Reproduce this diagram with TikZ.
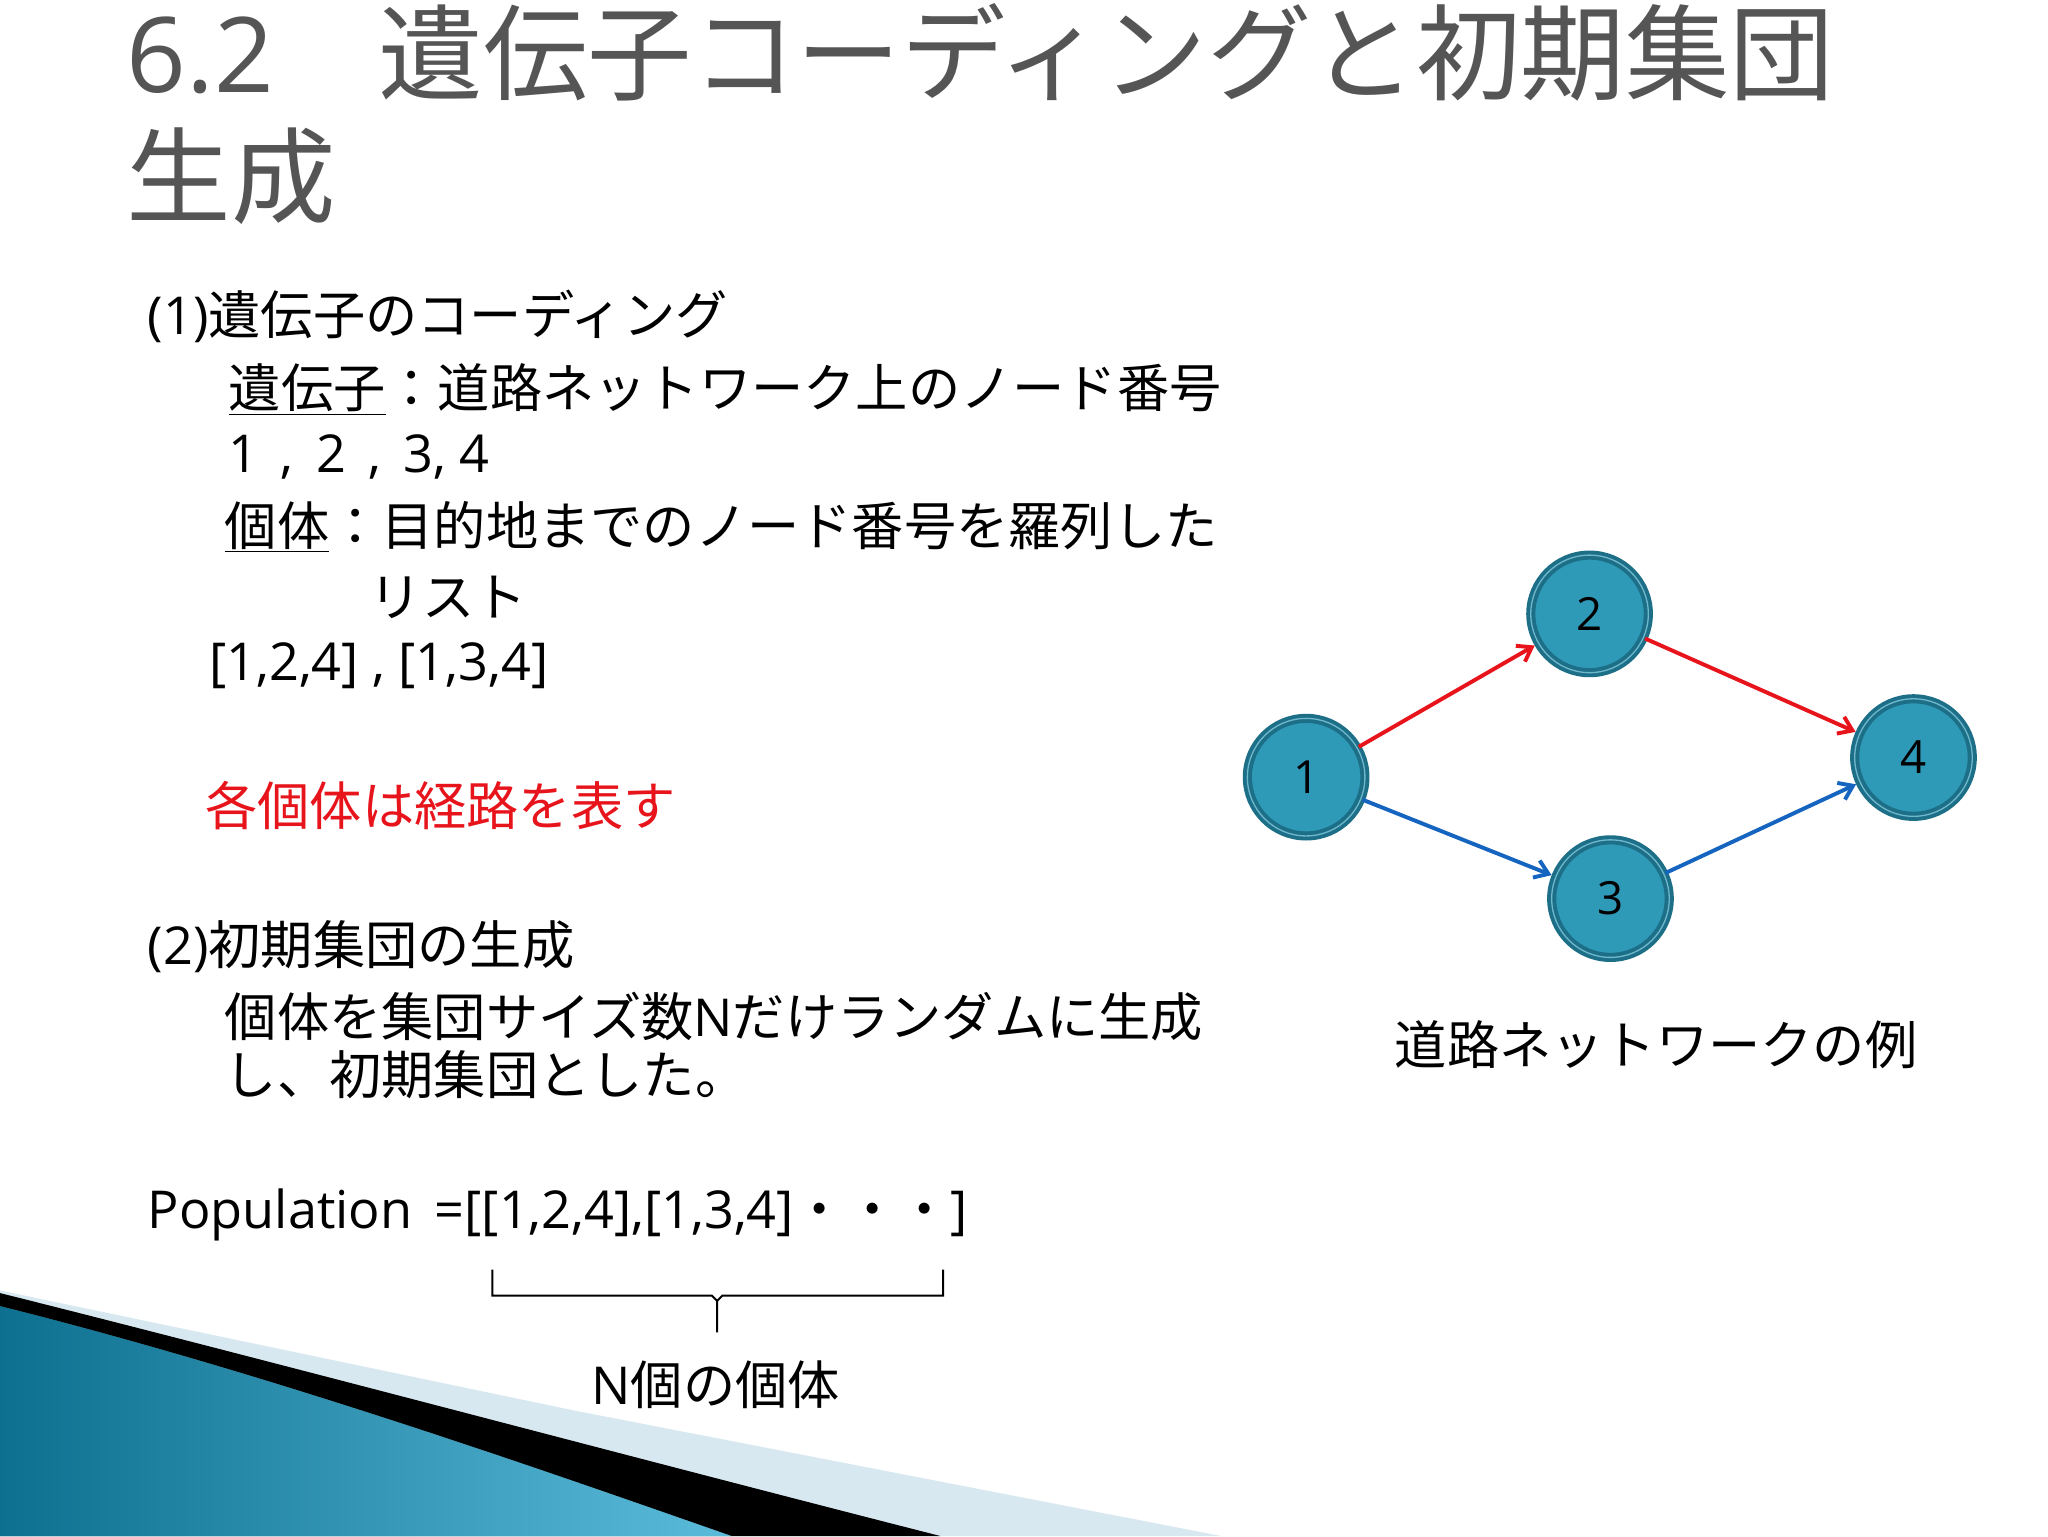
\documentclass[tikz,border=0pt]{standalone}
\usepackage{fontspec}
\setmainfont{Open Sans}
\newfontfamily\jp{Noto Sans CJK JP}[Scale=1.0]
\usetikzlibrary{arrows.meta}
\definecolor{nodefill}{HTML}{2E9AB8}
\definecolor{nodeedge}{HTML}{1D6F88}
\definecolor{redarrow}{HTML}{E8141C}
\definecolor{bluearrow}{HTML}{1565C0}
\definecolor{titlegray}{HTML}{555555}
\definecolor{tealdark}{HTML}{0E7090}
\definecolor{teallight}{HTML}{5BBBDA}
\definecolor{paleband}{HTML}{D8E8F0}
\begin{document}
\begin{tikzpicture}[x=1pt,y=-1pt,
  body/.style={anchor=west,inner sep=0pt,font=\fontsize{40}{44}\selectfont},
  title/.style={anchor=west,inner sep=0pt,text=titlegray,font=\fontsize{80}{86}\selectfont},
  gnode/.style={circle,minimum size=90pt,fill=nodefill,draw=nodeedge,line width=3pt,font=\fontsize{35}{40}\selectfont,inner sep=0pt,double=nodefill!70!white,double distance=1pt},
  arr/.style={-{Straight Barb[length=10pt,width=14pt]},line width=3pt,shorten >=2pt}]
\useasboundingbox (0,0) rectangle (1568,1176);
\fill[white] (0,0) rectangle (1568,1176);
% decoration
\fill[paleband] (0,988) -- (440,1080) -- (935,1176) -- (0,1176) -- cycle;
\fill[black] (0,990) .. controls (200,1040) and (500,1120) .. (720,1176) -- (560,1176) .. controls (400,1120) and (200,1050) .. (0,1000) -- cycle;
\fill[left color=tealdark, right color=teallight] (0,1000) .. controls (200,1050) and (400,1120) .. (560,1176) -- (0,1176) -- cycle;
% title
\node[title] (t1) at (97,40) {6.2\quad{\jp 遺伝子コーディングと初期集団}};
\node[title] (t2) at (97,135) {\jp 生成};
% body
\node[body] (l1) at (113,242) {(1){\jp 遺伝子のコーディング}};
\node[body] (l2) at (175,298) {\jp \underline{遺伝子}：道路ネットワーク上のノード番号};
\node[body] (l3) at (175,350) {1\, ,\, 2\, ,\, 3, 4};
\node[body] (l4) at (172,403) {\jp \underline{個体}：目的地までのノード番号を羅列した};
\node[body] (l5) at (283,457) {\jp リスト};
\node[body] (l6) at (160,510) {[1,2,4] , [1,3,4]};
\node[body,text=redarrow] (l7) at (157,617) {\jp 各個体は経路を表す};
\node[body] (l8) at (113,725) {(2){\jp 初期集団の生成}};
\node[body] (l9) at (172,778) {{\jp 個体を集団サイズ数}N{\jp だけランダムに生成}};
\node[body] (l10) at (172,823) {\jp し、初期集団とした。};
\node[body] (l11) at (113,930) {Population\, =[[1,2,4],[1,3,4]{\jp ・・・}]};
\coordinate (bl) at (377,972);
\coordinate (br) at (722,972);
\coordinate (bt) at (549,1020);
\draw[line width=1.5pt] (bl) -- ++(0,20) -- ++(168,0) -- ++(4,4) -- (bt);
\draw[line width=1.5pt] (br) -- ++(0,20) -- ++(-169,0) -- ++(-4,4);
\node[body,anchor=center] (nlab) at (548,1060) {N{\jp 個の個体}};
% graph
\node[gnode] (n1) at (1000,595) {1};
\node[gnode] (n2) at (1217,470) {2};
\node[gnode] (n3) at (1233,688) {3};
\node[gnode] (n4) at (1465,580) {4};
\draw[arr,redarrow] (n1) -- (n2);
\draw[arr,redarrow] (n2) -- (n4);
\draw[arr,bluearrow] (n1) -- (n3);
\draw[arr,bluearrow] (n3) -- (n4);
\node[body,anchor=center] (cap) at (1268,800) {\jp 道路ネットワークの例};
\end{tikzpicture}
\end{document}
